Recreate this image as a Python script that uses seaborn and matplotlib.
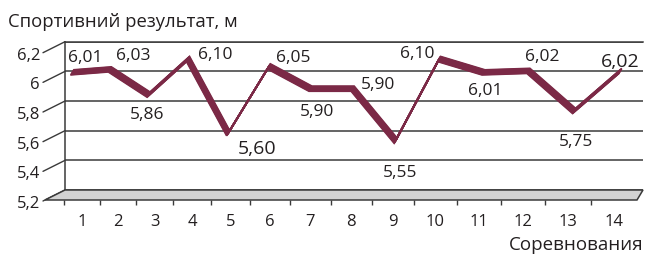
"""
Спортивний результат по змаганнях (псевдо-3D лінія)
"""
import numpy as np
import pandas as pd
import seaborn as sns
import matplotlib.pyplot as plt
from matplotlib.patches import Polygon
from matplotlib.transforms import ScaledTranslation

sns.set_theme(style="white")
plt.rcParams["font.family"] = ["Open Sans", "DejaVu Sans"]

# дані
competitions = list(range(1, 15))
results = [6.01, 6.03, 5.86, 6.10, 5.60, 6.05, 5.90, 5.90, 5.55, 6.10, 6.01, 6.02, 5.75, 6.02]
y_ticks = [5.2, 5.4, 5.6, 5.8, 6.0, 6.2]

# зсув підписів значень (px: вправо, вниз) та розмір шрифту
label_dx = [12, 22, -3, 26, 27, 23, 5, 24, 3, -23, 0, 12, 0, -2]
label_dy = [-12, -11, 23, -2, 18, -6, 26, -1, 35, -3, 21, -11, 34, -6]
label_big = [False, False, False, False, True, False, False, False, False, False, False, False, False, True]

W, H, DPI = 645, 254, 100
INK = "#231f20"
GRID = "#3a3a3a"
RIBBON = "#7b2946"

df = pd.DataFrame({"competition": competitions, "result": results})


def px_box(left, top, right, bottom):
    return [left / W, 1 - bottom / H, (right - left) / W, (bottom - top) / H]


def persp(k):
    fwd = lambda x: x + k * np.asarray(x) ** 2
    inv = lambda y: (np.sqrt(np.maximum(1 + 4 * k * np.asarray(y), 0)) - 1) / (2 * k)
    return fwd, inv


def fmt(v, nd):
    s = f"{v:.{nd}f}"
    if nd == 1 and s.endswith(".0"):
        s = s[:-2]
    return s.replace(".", ",")


fig = plt.figure(figsize=(W / DPI, H / DPI), dpi=DPI)

# задня стінка
ax = fig.add_axes(px_box(65, 41.7, 643, 190))
ax.set_xscale("function", functions=persp(0.00934))
ax.set_xlim(0.78, 14.45)
ax.set_ylim(5.2, 6.2)
ax.set_yticks(y_ticks)
ax.set_xticks([])
ax.grid(axis="y", color=GRID, lw=1.1)
ax.tick_params(axis="y", length=0, labelleft=False)
for side in ["right", "bottom"]:
    ax.spines[side].set_visible(False)
for side in ["left", "top"]:
    ax.spines[side].set_color(GRID)
    ax.spines[side].set_linewidth(1.1)

# стрічка: кілька копій лінії зі зсувом у глибину
for t in np.linspace(0, 1, 12):
    shift = ScaledTranslation(-3.0 * t / DPI, -5.0 * t / DPI, fig.dpi_scale_trans)
    sns.lineplot(
        data=df, x="competition", y="result", ax=ax, color=RIBBON, lw=1.3,
        transform=ax.transData + shift, solid_joinstyle="miter",
        solid_capstyle="butt", legend=False,
    )
ax.set_xlabel("")
ax.set_ylabel("")

# підписи значень
for x, y, dx, dy, big in zip(competitions, results, label_dx, label_dy, label_big):
    ax.annotate(
        fmt(y, 2), (x, y), xytext=(dx * 0.72, -dy * 0.72), textcoords="offset points",
        ha="center", va="center", fontsize=14 if big else 12.5, color=INK,
    )

# підписи осі Y з косими відводами
ytr = ax.get_yaxis_transform()
for v in y_ticks:
    ax.annotate(
        fmt(v, 1), (0, v), xycoords=ytr, xytext=(-25 * 0.72, -14 * 0.72),
        textcoords="offset points", ha="right", va="center", fontsize=12,
        color=INK, annotation_clip=False,
    )
    ax.annotate(
        "", (0, v), xycoords=ytr, xytext=(-22 * 0.72, -11 * 0.72),
        textcoords="offset points", annotation_clip=False,
        arrowprops=dict(arrowstyle="-", color=GRID, lw=1.0, shrinkA=0, shrinkB=0),
    )

# підлога
floor = [(65, 190), (643, 190), (637, 200), (45, 200)]
fig.add_artist(Polygon([(px / W, 1 - py / H) for px, py in floor], closed=True,
                       transform=fig.transFigure, facecolor="#d2d2d2",
                       edgecolor=GRID, lw=1.1))

# вісь X по передньому краю підлоги
axf = fig.add_axes(px_box(45, 199, 637, 200))
axf.set_xscale("function", functions=persp(0.0118))
axf.set_xlim(-0.05, 14.5)
axf.set_ylim(0, 1)
axf.patch.set_alpha(0)
for s in axf.spines.values():
    s.set_visible(False)
axf.set_yticks([])
axf.set_xticks(competitions)
axf.set_xticklabels([str(c) for c in competitions])
axf.set_xticks([c - 0.5 for c in competitions], minor=True)
axf.tick_params(axis="x", which="major", length=0, pad=10, labelsize=12, labelcolor=INK)
axf.tick_params(axis="x", which="minor", length=3.6, width=1.0, color=GRID, direction="out")
axf.xaxis.set_tick_params(which="minor", bottom=True)

fig.text(8 / W, 1 - 22 / H, "Спортивний результат, м", ha="left", va="center",
         fontsize=13.3, color=INK)
fig.text(643 / W, 1 - 245 / H, "Соревнования", ha="right", va="center",
         fontsize=13.5, color=INK)

fig.savefig("out.png", dpi=DPI)
